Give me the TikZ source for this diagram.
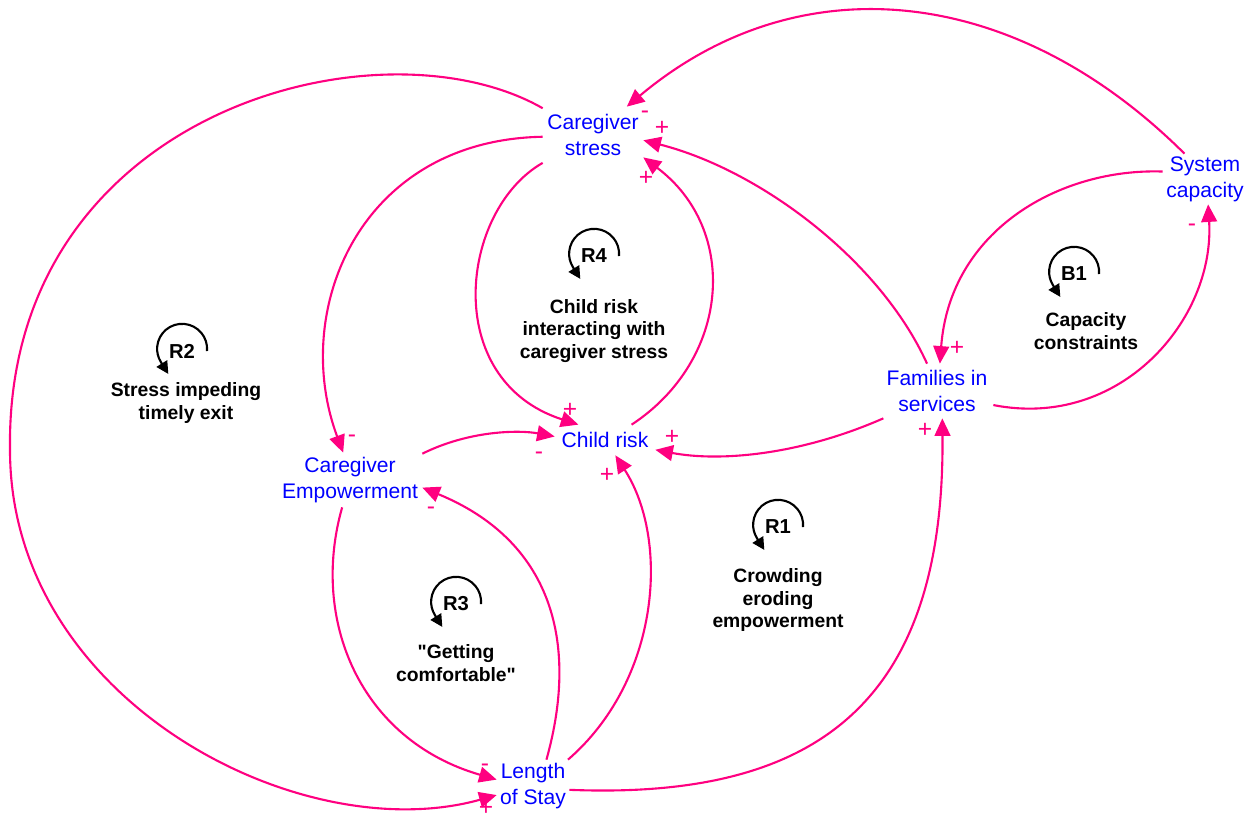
\documentclass[tikz,border=0pt]{standalone}
\usepackage{fontspec}
\setmainfont{Liberation Sans}
\usepackage{xcolor}
\usetikzlibrary{arrows.meta}
\definecolor{linkpink}{RGB}{255,0,128}
\definecolor{varblue}{RGB}{0,0,255}

\begin{document}
\begin{tikzpicture}[x=0.02cm, y=-0.02cm,
  var/.style={text=varblue, align=center, inner sep=0pt, font=\fontsize{12}{14.8}\selectfont},
  link/.style={draw=linkpink, line width=1.2pt, -{Triangle[length=10pt,width=9pt]}},
  pol/.style={text=linkpink, inner sep=0pt, font=\fontsize{14}{14}\selectfont},
  loopsym/.style={line width=1.2pt, -{Triangle[length=7pt,width=7pt]}},
  looptag/.style={inner sep=0pt, font=\fontsize{11.5}{13}\selectfont\bfseries},
  looptext/.style={align=center, inner sep=0pt, font=\fontsize{11}{13}\selectfont\bfseries}]

\useasboundingbox (0,0) rectangle (1253,818);

\node [var, minimum width=2cm, minimum height=1.12cm] (cs) at (593,135) {Caregiver\\stress};
\node [var, minimum width=1.68cm, minimum height=1cm] (sc) at (1205,179) {System\\capacity};
\node [var, minimum width=2.24cm, minimum height=1.08cm] (fs) at (937,391) {Families in\\services};
\node [var, minimum width=2cm, minimum height=0.6cm] (cr) at (605,440) {Child risk};
\node [var, minimum width=2.88cm, minimum height=1.08cm] (ce) at (350,480) {Caregiver\\Empowerment};
\node [var, minimum width=1.44cm, minimum height=1.04cm] (ls) at (533,786) {Length\\of Stay};

\draw [link] (sc.129) .. controls (1013,-17) and (798,-37) .. (cs.40);
\draw [link] (fs.110) .. controls (880,260) and (760,170) .. (cs.-6);
\draw [link] (cr.30) .. controls (730,360) and (740,230) .. (cs.-24);
\draw [link] (cs.209) .. controls (460,210) and (440,380) .. (cr.150);
\draw [link] (cs.182) .. controls (360,140) and (290,310) .. (ce.104);
\draw [link] (cs.152) .. controls (380,15) and (5,110) .. (10,450)
  .. controls (10,700) and (300,850) .. (ls.194);
\draw [link] (ce.20) .. controls (470,430) and (520,430) .. (cr.176);
\draw [link] (ls.63) .. controls (580,640) and (550,540) .. (ce.-6);
\draw [link] (ce.254) .. controls (310,620) and (360,740) .. (ls.170);
\draw [link] (ls.37) .. controls (660,680) and (670,540) .. (cr.-56);
\draw [link] (fs.207) .. controls (800,455) and (720,462) .. (cr.-11);
\draw [link] (ls.-6) .. controls (820,800) and (945,700) .. (fs.-79);
\draw [link] (fs.-14) .. controls (1120,430) and (1215,320) .. (sc.-83);
\draw [link] (sc.170) .. controls (1060,168) and (950,230) .. (fs.84);

\node [pol] (p1) at (645,115) {-};
\node [pol] (p2) at (662,128) {+};
\node [pol] (p3) at (646,178) {+};
\node [pol] (p4) at (570,410) {+};
\node [pol] (p5) at (352,439) {-};
\node [pol] (p6) at (486,808) {+};
\node [pol] (p7) at (539,456) {-};
\node [pol] (p8) at (431,511) {-};
\node [pol] (p9) at (485,768) {-};
\node [pol] (p10) at (607,475) {+};
\node [pol] (p11) at (672,437) {+};
\node [pol] (p12) at (925,430) {+};
\node [pol] (p13) at (1192,228) {-};
\node [pol] (p14) at (957,348) {+};

\node [looptag] (R4) at (594,256) {R4};
\node [looptag] (R2) at (182,351) {R2};
\node [looptag] (R3) at (456,604) {R3};
\node [looptag] (R1) at (778,527) {R1};
\node [looptag] (B1) at (1074,274) {B1};
\foreach \l in {R4,R2,R3,R1,B1}
  \draw [loopsym] ([xshift=0.5cm]\l.center) arc [start angle=-5, end angle=212, radius=0.5cm]
    -- ++(-58:0.28cm);

\node [looptext] (R4txt) at (594,331) {Child risk\\interacting with\\caregiver stress};
\node [looptext] (R2txt) at (186,403) {Stress impeding\\timely exit};
\node [looptext] (R3txt) at (456,663) {\textquotedbl Getting\\comfortable\textquotedbl};
\node [looptext] (R1txt) at (778,600) {Crowding\\eroding\\empowerment};
\node [looptext] (B1txt) at (1086,331) {Capacity\\constraints};

\end{tikzpicture}
\end{document}
